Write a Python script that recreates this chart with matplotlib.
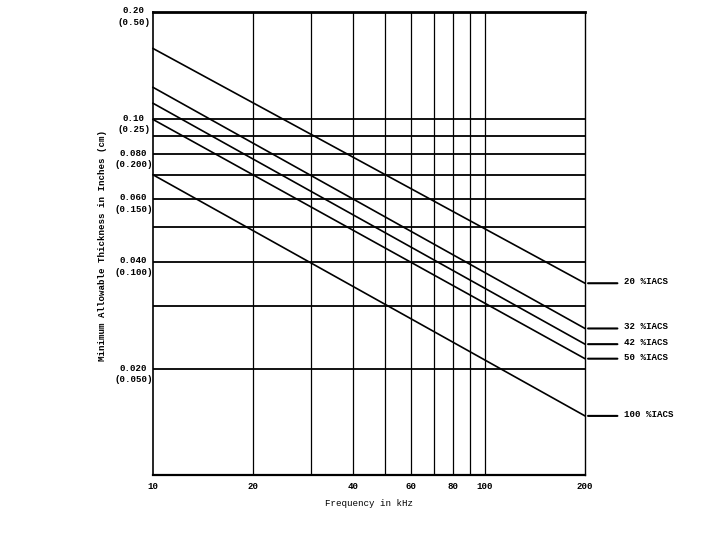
import numpy as np
import matplotlib
matplotlib.use("Agg")
import matplotlib.pyplot as plt
import matplotlib.transforms as mtransforms

# values
freq_ends = [10, 200]                      # kHz
conductivity = ["20", "32", "42", "50", "100"]   # %IACS
thick_at_10 = [0.158, 0.123, 0.111, 0.100, 0.070]
thick_at_200 = [0.0348, 0.026, 0.0235, 0.0214, 0.0148]

x_grid = [20, 30, 40, 50, 60, 70, 80, 90, 100]
y_grid = [0.02, 0.03, 0.04, 0.05, 0.06, 0.07, 0.08, 0.09, 0.10]

x_ticks = [10, 20, 40, 60, 80, 100, 200]
y_ticks = [0.20, 0.10, 0.080, 0.060, 0.040, 0.020]
y_tick_labels = ["0.20\n(0.50)", "0.10\n(0.25)", "0.080\n(0.200)",
                 "0.060\n(0.150)", "0.040\n(0.100)", "0.020\n(0.050)"]

plt.rcParams['font.family'] = ['Liberation Mono', 'DejaVu Sans Mono']
plt.rcParams['font.weight'] = 'bold'
fs = 6.6

fig = plt.figure(figsize=(7.2, 5.4), dpi=100)
ax = fig.add_axes([0.2125, 0.12, 0.6, 0.858])
ax.set_xscale('log')
ax.set_yscale('log')
ax.set_xlim(10, 200)
ax.set_ylim(0.0101, 0.20)

for xv in x_grid:
    ax.axvline(xv, color='black', lw=0.9)
for yv in y_grid:
    ax.axhline(yv, color='black', lw=1.3)

for c, y0, y1 in zip(conductivity, thick_at_10, thick_at_200):
    ax.plot(freq_ends, [y0, y1], color='black', lw=1.2, clip_on=False)
    # short leader + label on the right side
    ax.annotate("", xy=(1.007, y1), xytext=(1.075, y1),
                xycoords=ax.get_yaxis_transform(),
                arrowprops=dict(arrowstyle='-', lw=1.5, color='black',
                                shrinkA=0, shrinkB=0))
    ax.text(1.09, y1 * 1.01, c + " %IACS", transform=ax.get_yaxis_transform(),
            fontsize=fs, va='center', ha='left')

for side, lw in [('top', 2.0), ('bottom', 1.6), ('left', 1.2), ('right', 1.0)]:
    ax.spines[side].set_linewidth(lw)

ax.tick_params(which='both', length=0)
ax.set_xticks(x_ticks)
ax.set_xticklabels([str(v) for v in x_ticks], fontsize=fs)
ax.xaxis.set_minor_formatter(matplotlib.ticker.NullFormatter())
ax.tick_params(axis='x', pad=5)
ax.set_yticks([])
ax.yaxis.set_minor_locator(matplotlib.ticker.NullLocator())

trans = mtransforms.blended_transform_factory(ax.transAxes, ax.transData)
for yv, lab in zip(y_ticks, y_tick_labels):
    ax.annotate(lab, xy=(0, yv), xycoords=trans, xytext=(-14, 4),
                textcoords='offset points', fontsize=fs, ha='center',
                va='top', multialignment='center', linespacing=1.35)

ax.set_xlabel("Frequency in kHz", fontsize=fs, labelpad=6)
fig.text(0.143, 0.545, "Minimum Allowable Thickness in Inches (cm)",
         rotation=90, fontsize=fs, ha='center', va='center')

fig.savefig("out.png", dpi=100, facecolor='white')
